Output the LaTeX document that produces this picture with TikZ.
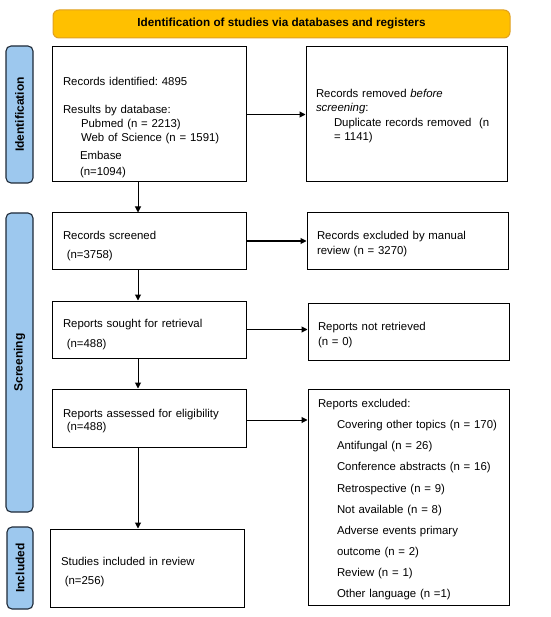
\documentclass[tikz,border=0pt]{standalone}
\usepackage{fontspec}
\setmainfont{Liberation Sans}
\usetikzlibrary{arrows.meta}
\definecolor{bannerfill}{HTML}{FFC000}
\definecolor{bannerline}{HTML}{E0A020}
\definecolor{tabfill}{HTML}{9DC8EE}
\definecolor{tabline}{HTML}{1F2A38}
\frenchspacing
\begin{document}
\begin{tikzpicture}[x=1pt, y=-1pt,
        caja/.style={draw, line width=1pt, align=left, inner ysep=0pt,
            font=\fontsize{11.4}{14}\selectfont},
        pestana/.style={draw=tabline, fill=tabfill, line width=1.1pt, rounded corners=5pt,
            rotate=90, font=\bfseries\fontsize{12}{14}\selectfont},
        flecha/.style={-{Triangle[length=6pt,width=6pt]}, line width=1pt}]
        \useasboundingbox (0,0) rectangle (550,617);

        % Encabezado
        \node[draw=bannerline, fill=bannerfill, rounded corners=6pt, line width=1pt,
            minimum width=457pt, minimum height=28pt,
            font=\bfseries\fontsize{11.7}{14}\selectfont] (banner) at (281.5,24)
            {Identification of studies via databases and registers};

        % Pestanas laterales
        \node[pestana, minimum width=137pt, minimum height=27pt] (tabid) at (19.5,114.5) {Identification};
        \node[pestana, minimum width=299pt, minimum height=27pt] (tabscr) at (19.5,362.5) {Screening};
        \node[pestana, minimum width=82pt, minimum height=26pt] (tabinc) at (20,568) {Included};

        % Columna izquierda
        \node[caja, text width=172pt, inner xsep=11pt, minimum height=135pt] (ident) at (149,114.5)
            {\rule{0pt}{34pt}Records identified: 4895\\[14pt]
             Results by database:\\
             \hspace*{18pt}Pubmed (n = 2213)\\
             \hspace*{18pt}Web of Science (n = 1591)\\[4pt]
             \hspace*{17pt}Embase\\[2pt]
             \hspace*{17pt}(n=1094)};
        \node[caja, text width=172pt, inner xsep=11pt, minimum height=56pt] (screened) at (149,241)
            {\rule{0pt}{18.5pt}Records screened\\[5pt] \ (n=3758)};
        \node[caja, text width=172pt, inner xsep=11pt, minimum height=57pt] (sought) at (149,329.5)
            {\rule{0pt}{18.5pt}Reports sought for retrieval\\[6pt] \ (n=488)};
        \node[caja, text width=172pt, inner xsep=11pt, minimum height=58pt] (assessed) at (149,418)
            {\rule{0pt}{14.5pt}Reports assessed for eligibility\\[-1pt] \ (n=488)};
        \node[caja, text width=172pt, inner xsep=11pt, minimum height=78pt] (included) at (147,568)
            {\rule{0pt}{16.5pt}Studies included in review\\[5pt] \ (n=256)};

        % Columna derecha
        \node[caja, text width=181pt, inner xsep=10pt, minimum height=135pt] (removed) at (406.5,114.5)
            {\rule{0pt}{11.5pt}Records removed \textit{before}\\
             \textit{screening}:\\[1pt]
             \hspace*{18pt}Duplicate records removed~ (n\\
             \hspace*{18pt}= 1141)};
        \node[caja, text width=181pt, inner xsep=10pt, minimum height=56pt] (manual) at (407.5,241)
            {\rule{0pt}{14.5pt}Records excluded by manual\\[1pt] review (n = 3270)};
        \node[caja, text width=181pt, inner xsep=10pt, minimum height=57pt] (notret) at (408.5,331.5)
            {\rule{0pt}{14.5pt}Reports not retrieved\\[1pt] (n = 0)};
        \node[caja, text width=181pt, inner xsep=10pt, minimum height=216pt,
            font=\fontsize{11.4}{21.1}\selectfont] (excl) at (408.5,497)
            {\rule{0pt}{13.5pt}Reports excluded:\\
             \hspace*{19pt}Covering other topics (n = 170)\\
             \hspace*{19pt}Antifungal (n = 26)\\
             \hspace*{19pt}Conference abstracts (n = 16)\\
             \hspace*{19pt}Retrospective (n = 9)\\
             \hspace*{19pt}Not available (n = 8)\\
             \hspace*{19pt}Adverse events primary\\
             \hspace*{19pt}outcome (n = 2)\\
             \hspace*{19pt}Review (n = 1)\\
             \hspace*{19pt}Other language (n =1)};

        % Flechas
        \draw[flecha] ([xshift=-11pt]ident.south) -- ([xshift=-11pt]screened.north);
        \draw[flecha] ([xshift=-11pt]screened.south) -- ([xshift=-11pt]sought.north);
        \draw[flecha] ([xshift=-11pt]sought.south) -- ([xshift=-11pt]assessed.north);
        \draw[flecha] ([xshift=-11pt]assessed.south) -- ([xshift=-11pt]assessed.south |- included.north);
        \draw[flecha] (ident.east) -- (removed.west);
        \draw[flecha] (screened.east) -- (manual.west);
        \draw[flecha] (sought.east) -- (sought.east -| notret.west);
        \draw[flecha] ([yshift=-2pt]assessed.east) -- ([yshift=-2pt]assessed.east -| excl.west);
\end{tikzpicture}
\end{document}
